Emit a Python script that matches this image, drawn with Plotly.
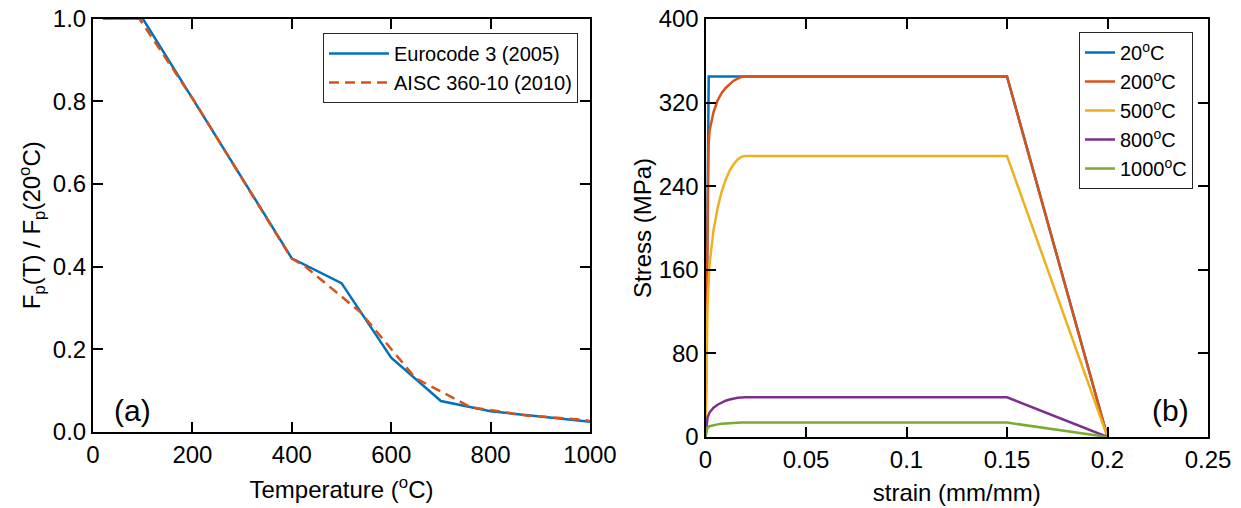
import plotly.graph_objects as go

# ---- (a) proportional-limit reduction factor vs temperature ----
ec3_temp = [20, 100, 200, 300, 400, 500, 600, 700, 800, 900, 1000]
ec3_kp = [1.0, 1.0, 0.807, 0.613, 0.420, 0.360, 0.180, 0.075, 0.050, 0.0375, 0.025]

aisc_temp = [20, 93, 204, 316, 399, 427, 538, 649, 760, 871, 982, 1093]
aisc_kp = [1.0, 1.0, 0.80, 0.58, 0.42, 0.40, 0.29, 0.13, 0.06, 0.04, 0.03, 0.01]

# ---- (b) stress-strain curves at elevated temperature ----
strain_20 = [0, 0.0016, 0.15, 0.20]
stress_20 = [0, 345, 345, 0]

strain_200 = [0, 0.0015, 0.002, 0.003, 0.004, 0.006, 0.008, 0.010, 0.012, 0.014, 0.016, 0.018, 0.020, 0.15, 0.20]
stress_200 = [0, 278, 293, 304, 311, 322, 329, 334, 338, 341, 343, 344.6, 345, 345, 0]

strain_500 = [0, 0.001, 0.002, 0.003, 0.004, 0.006, 0.008, 0.010, 0.012, 0.014, 0.016, 0.018, 0.020, 0.15, 0.20]
stress_500 = [0, 124, 165, 184, 198, 219, 234.5, 246, 255, 261, 265.7, 268.2, 269, 269, 0]

strain_800 = [0, 0.001, 0.002, 0.004, 0.006, 0.008, 0.010, 0.012, 0.014, 0.016, 0.018, 0.020, 0.15, 0.20]
stress_800 = [0, 18.4, 23.4, 28.0, 30.9, 33.1, 34.7, 35.9, 36.8, 37.5, 37.8, 38.0, 38.0, 0]

strain_1000 = [0, 0.001, 0.002, 0.004, 0.006, 0.008, 0.010, 0.012, 0.014, 0.016, 0.018, 0.020, 0.15, 0.20]
stress_1000 = [0, 9.0, 10.3, 11.4, 12.1, 12.6, 13.0, 13.3, 13.5, 13.7, 13.8, 13.8, 13.8, 0]

curve_names = ["20<sup>o</sup>C", "200<sup>o</sup>C", "500<sup>o</sup>C", "800<sup>o</sup>C", "1000<sup>o</sup>C"]
curve_strain = [strain_20, strain_200, strain_500, strain_800, strain_1000]
curve_stress = [stress_20, stress_200, stress_500, stress_800, stress_1000]
curve_colors = ["#0072BD", "#D95319", "#EDB120", "#7E2F8E", "#77AC30"]

W, H = 1241, 508
FONT = "Liberation Sans, Arial, sans-serif"
LW = 2.5

fig = go.Figure()

fig.add_trace(go.Scatter(x=ec3_temp, y=ec3_kp, mode="lines", name="Eurocode 3 (2005)",
                         line=dict(color="#0072BD", width=LW), xaxis="x", yaxis="y", legend="legend"))
fig.add_trace(go.Scatter(x=aisc_temp, y=aisc_kp, mode="lines", name="AISC 360-10 (2010)",
                         line=dict(color="#D95319", width=LW, dash="10px,6px"), xaxis="x", yaxis="y",
                         legend="legend"))

for nm, sx, sy, c in zip(curve_names, curve_strain, curve_stress, curve_colors):
    fig.add_trace(go.Scatter(x=sx, y=sy, mode="lines", name=nm, line=dict(color=c, width=LW),
                             xaxis="x2", yaxis="y2", legend="legend2"))

def px_x(p):
    return p / W

def px_y(p):
    return 1 - p / H

axis_common = dict(showline=True, linecolor="black", linewidth=2, mirror="allticks",
                   ticks="inside", ticklen=10, tickwidth=2, tickcolor="black",
                   showgrid=False, zeroline=False, automargin=False,
                   tickfont=dict(family=FONT, size=24, color="black"),
                   title_font=dict(family=FONT, size=24, color="black"))

fig.update_layout(
    width=W, height=H,
    margin=dict(l=0, r=0, t=0, b=0, autoexpand=False),
    plot_bgcolor="white", paper_bgcolor="white",
    font=dict(family=FONT, size=24, color="black"),
    xaxis=dict(domain=[px_x(93), px_x(590)], range=[0, 1000], dtick=200, anchor="y",
               title=dict(text="Temperature (<sup>o</sup>C)", standoff=14), **axis_common),
    yaxis=dict(domain=[px_y(432), px_y(18.5)], range=[0, 1], dtick=0.2, tickformat=".1f", anchor="x",
               title=dict(text="F<sub>p</sub>(T) / F<sub>p</sub>(20<sup>o</sup>C)", standoff=5),
               **axis_common),
    xaxis2=dict(domain=[px_x(705.5), px_x(1208)], range=[0, 0.25], dtick=0.05, anchor="y2",
                title=dict(text="strain (mm/mm)", standoff=12), **axis_common),
    yaxis2=dict(domain=[px_y(437), px_y(19)], range=[0, 400], dtick=80, anchor="x2",
                title=dict(text="Stress (MPa)", standoff=0), **axis_common),
    legend=dict(x=px_x(578), y=px_y(33), xanchor="right", yanchor="top", itemwidth=60,
                bgcolor="white", bordercolor="#262626", borderwidth=1,
                font=dict(family=FONT, size=20, color="black")),
    legend2=dict(x=px_x(1193), y=px_y(32), xanchor="right", yanchor="top",
                 bgcolor="white", bordercolor="#262626", borderwidth=1,
                 font=dict(family=FONT, size=20, color="black")),
    annotations=[
        dict(text="(a)", x=px_x(132), y=px_y(410), xref="paper", yref="paper", showarrow=False,
             xanchor="center", yanchor="middle", font=dict(family=FONT, size=30, color="black")),
        dict(text="(b)", x=px_x(1170), y=px_y(410), xref="paper", yref="paper", showarrow=False,
             xanchor="center", yanchor="middle", font=dict(family=FONT, size=30, color="black")),
    ],
)

fig.write_html("out.html")
